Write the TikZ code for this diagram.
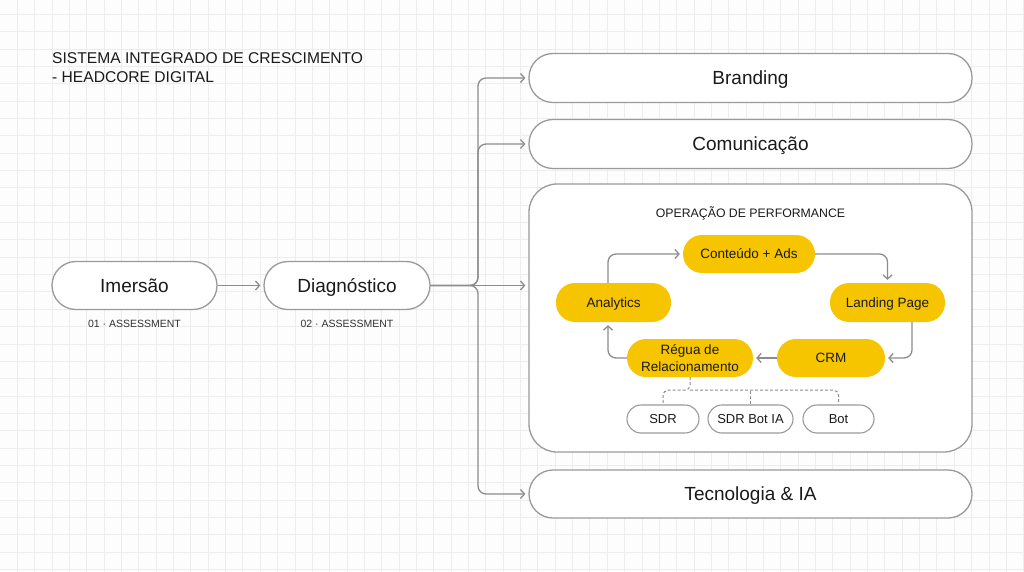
\documentclass[tikz,border=0pt]{standalone}
\usepackage{fontspec}
\setmainfont{Liberation Sans}
\usetikzlibrary{arrows.meta,calc}
\definecolor{gridc}{HTML}{EDEDED}
\definecolor{bgc}{HTML}{FDFDFD}
\definecolor{linec}{HTML}{8C8C8C}
\definecolor{boxc}{HTML}{9A9A9A}
\definecolor{ylw}{HTML}{F6C500}
\definecolor{txt}{HTML}{1A1A1A}
\definecolor{subt}{HTML}{333333}
\begin{document}
\begin{tikzpicture}[x=1pt,y=-1pt,
  bigpill/.style={draw=boxc, line width=1.3pt, fill=white, text=txt,
    font=\fontsize{19}{22}\selectfont, minimum height=48pt,
    rounded corners=24pt, inner sep=0pt, text height=13.6pt, text depth=0pt},
  ylwnode/.style={fill=ylw, text=txt, font=\fontsize{13.5}{16}\selectfont,
    minimum height=38pt, rounded corners=19pt, inner sep=0pt, align=center},
  ycap/.style={text height=9.7pt, text depth=0pt},
  smallpill/.style={draw=boxc, line width=1.1pt, fill=white, text=txt,
    font=\fontsize{13}{15}\selectfont, minimum height=28pt,
    rounded corners=14pt, inner sep=0pt, text height=9.3pt, text depth=0pt},
  subtext/.style={text=subt, font=\fontsize{10.5}{12}\selectfont, inner sep=0pt,
    text height=7.5pt, text depth=0pt},
  titletext/.style={text=txt, font=\fontsize{15.6}{18}\selectfont, inner sep=0pt, anchor=base west},
  arr/.style={draw=linec, line width=1.3pt, -{Straight Barb[length=4pt,width=9pt]},
    shorten >=3pt, rounded corners=8pt},
  dashline/.style={draw=linec, line width=1pt, dash pattern=on 3pt off 2pt, rounded corners=5pt}
]
\useasboundingbox (0,0) rectangle (1024,572);
\fill[bgc] (0,0) rectangle (1024,572);
\begin{scope}
\clip (0,0) rectangle (1024,572);
\foreach \i in {1,...,59} \draw[gridc, line width=0.9pt] (\i*17.35,0) -- (\i*17.35,572);
\foreach \j in {1,...,33} \draw[gridc, line width=0.9pt] (0,-3.05+\j*17.35) -- (1024,-3.05+\j*17.35);
\end{scope}

% title
\node[titletext] (title1) at (52,63.3) {SISTEMA INTEGRADO DE CRESCIMENTO};
\node[titletext] (title2) at (52,82.3) {- HEADCORE DIGITAL};

% left flow
\node[bigpill, minimum width=165pt] (imersao) at (134.5,285.5) {Imersão};
\node[subtext] (sub1) at (134.5,324) {01 · ASSESSMENT};
\node[bigpill, minimum width=166pt] (diag) at (347,285.5) {Diagnóstico};
\node[subtext] (sub2) at (347,324) {02 · ASSESSMENT};

% right boxes
\node[bigpill, minimum width=443pt, minimum height=49pt] (brand) at (750.5,78) {Branding};
\node[bigpill, minimum width=443pt, minimum height=49pt] (comun) at (750.5,144) {Comunicação};
\node[draw=boxc, line width=1.3pt, fill=white, minimum width=443pt, minimum height=268pt,
  rounded corners=28pt, inner sep=0pt] (oper) at (750.5,318) {};
\node[text=txt, font=\fontsize{12.3}{14}\selectfont, inner sep=0pt, text height=8.8pt, text depth=0pt] (operlabel) at (750.5,213) {OPERAÇÃO DE PERFORMANCE};
\node[bigpill, minimum width=443pt] (tecn) at (750.5,494) {Tecnologia \& IA};

% main connectors
\draw[arr] (imersao.east) -- (diag.west);
\coordinate (split) at (478,285.5);
\draw[arr] (diag.east) -- (split) -- (split |- brand.west) -- (brand.west);
\draw[arr] (diag.east) -- (split) -- (split |- comun.west) -- (comun.west);
\draw[arr] (diag.east) -- (diag.east -| oper.west);
\draw[arr] (diag.east) -- (split) -- (split |- tecn.west) -- (tecn.west);

% cycle
\node[ylwnode, minimum width=132pt, ycap] (cont) at (749,254) {Conteúdo + Ads};
\node[ylwnode, minimum width=115pt, minimum height=39pt, ycap] (land) at (887.5,302.5) {Landing Page};
\node[ylwnode, minimum width=108pt, ycap] (crm) at (831,358) {CRM};
\node[ylwnode, minimum width=126pt, font=\fontsize{13.5}{16.5}\selectfont] (regua) at (690,358) {Régua de\\Relacionamento};
\node[ylwnode, minimum width=115pt, minimum height=39pt, ycap] (analytics) at (613.5,302.5) {Analytics};

\draw[arr] ([xshift=-5.5pt]analytics.north) |- (cont.west);
\draw[arr] (cont.east) -| (land.north);
\draw[arr] ([xshift=24.5pt]land.south) |- (crm.east);
\draw[arr] (crm.west) -- (regua.east);
\draw[arr] (regua.west) -| ([xshift=-5.5pt]analytics.south);

% sub nodes
\node[smallpill, minimum width=72pt] (sdr) at (663,419) {SDR};
\node[smallpill, minimum width=85pt] (sdrbot) at (750.5,419) {SDR Bot IA};
\node[smallpill, minimum width=71pt] (bot) at (838.5,419) {Bot};

\coordinate (rsplit) at ($(regua.south)+(0,13)$);
\draw[dashline] (regua.south) -- (rsplit) -| (sdr.north);
\draw[dashline] (rsplit) -| (bot.north);
\draw[dashline] (sdrbot.north) -- (sdrbot.north |- rsplit);
\end{tikzpicture}
\end{document}
